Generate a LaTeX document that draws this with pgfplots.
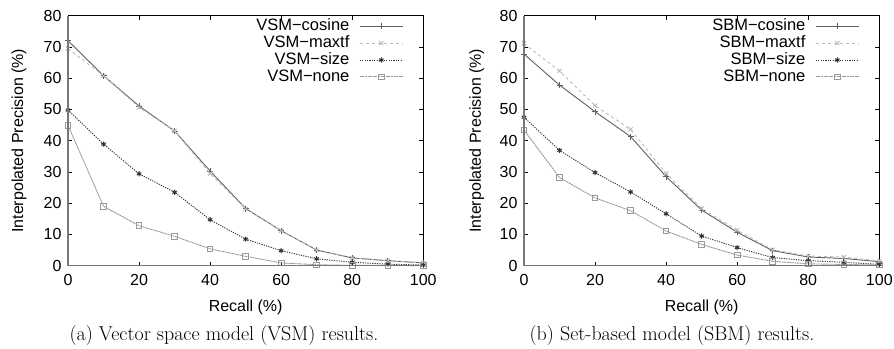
\documentclass[border=0pt]{standalone}
\usepackage{pgfplots}
\pgfplotsset{compat=1.18}
\usepackage{fontspec}
\setsansfont{Liberation Sans}
\definecolor{cCos}{HTML}{606060}
\definecolor{cMax}{HTML}{BBBBBB}
\definecolor{cSize}{HTML}{303030}
\definecolor{cNone}{HTML}{999999}
\definecolor{cAx}{HTML}{777777}

\pgfplotstableread{
x cos maxtf size none
0   72.0 69.5 49.8 44.9
10  60.8 60.8 38.9 19.0
20  51.1 50.7 29.4 12.8
30  43.1 43.1 23.5 9.4
40  30.3 29.5 14.7 5.4
50  18.3 18.2 8.5 3.0
60  11.2 11.2 4.8 0.9
70  5.0  5.0  2.2 0.3
80  2.5  2.5  1.1 0.1
90  1.6  1.6  0.5 0.1
100 0.9  0.9  0.2 0.0
}\vsm
\pgfplotstableread{
x cos maxtf size none
0   67.7 71.1 47.5 43.4
10  57.8 62.3 36.9 28.2
20  49.3 51.2 29.8 21.7
30  41.3 43.6 23.6 17.6
40  28.5 29.5 16.6 11.1
50  17.8 18.3 9.5 6.8
60  10.7 11.4 5.8 3.4
70  4.8  5.1  2.6 1.4
80  2.8  3.1  1.6 0.6
90  2.3  2.8  1.1 0.4
100 1.3  1.5  0.4 0.2
}\sbm

\pgfplotsset{
  myaxis/.style={
    anchor=south west, scale only axis, width=355.3pt, height=250pt,
    xmin=0, xmax=100, ymin=0, ymax=80,
    xtick={0,20,...,100}, ytick={0,10,...,80},
    tick align=inside, major tick length=4pt,
    tick style={black, line width=0.5pt},
    axis line style={black, line width=0.6pt},
    font=\sffamily\fontsize{16}{19}\selectfont,
    /pgf/number format/assume math mode=true,
    xticklabel style={yshift=-5.5pt},
    yticklabel style={xshift=-3pt},
    every axis x label/.style={at={(axis description cs:0.5,0)}, anchor=center, yshift=-41.3pt},
    xlabel={Recall (\%)},
    ylabel={Interpolated Precision (\%)},
    legend plot pos=right,
    legend cell align=right,
    legend style={draw=none, fill=none, at={(axis description cs:1,1)}, anchor=north east,
      xshift=-20pt, yshift=-3.75pt, inner sep=0pt, outer sep=0pt,
      nodes={inner sep=0pt, text height=11.5pt, text depth=2pt, font=\sffamily\fontsize{16.5}{19}\selectfont},
      row sep=3.4pt, column sep=10pt},
    legend image code/.code={\draw[mark repeat=2,mark phase=2,##1] plot coordinates {(0pt,0pt) (21.5pt,0pt) (43pt,0pt)};},
    after end axis/.code={\draw[cAx, line width=1.6pt] (rel axis cs:0,1) -- (rel axis cs:0,0) -- (rel axis cs:1,0);},
    clip=false,
  },
  sCos/.style={cCos, solid, line width=0.9pt, mark=+, mark size=3pt, mark options={solid}},
  sMax/.style={cMax, dashed, line width=0.9pt, mark=x, mark size=3pt, mark options={solid}},
  sSize/.style={cSize, dash pattern=on 1.2pt off 1.2pt, line width=0.9pt, mark=asterisk, mark size=2.6pt, mark options={solid, line width=1pt}},
  sNone/.style={cNone, dash pattern=on 2pt off 0.6pt, line width=0.9pt, mark=square, mark size=2.8pt, mark options={solid, line width=0.9pt}},
}

\begin{document}
\begin{tikzpicture}[x=1pt,y=1pt]
\useasboundingbox (0,0) rectangle (894,348);
\begin{axis}[myaxis, at={(68pt,82.3pt)},
  every axis y label/.style={at={(axis description cs:0,0.5)}, anchor=center, xshift=-49pt, rotate=90}]
\addplot[sCos] table[x=x,y=cos] {\vsm};
\addlegendentry{VSM−cosine}
\addplot[sMax] table[x=x,y=maxtf] {\vsm};
\addlegendentry{VSM−maxtf}
\addplot[sSize] table[x=x,y=size] {\vsm};
\addlegendentry{VSM−size}
\addplot[sNone] table[x=x,y=none] {\vsm};
\addlegendentry{VSM−none}
\end{axis}
\begin{axis}[myaxis, at={(524pt,82.3pt)},
  every axis y label/.style={at={(axis description cs:0,0.5)}, anchor=center, xshift=-47.3pt, rotate=90}]
\addplot[sCos] table[x=x,y=cos] {\sbm};
\addlegendentry{SBM−cosine}
\addplot[sMax] table[x=x,y=maxtf] {\sbm};
\addlegendentry{SBM−maxtf}
\addplot[sSize] table[x=x,y=size] {\sbm};
\addlegendentry{SBM−size}
\addplot[sNone] table[x=x,y=none] {\sbm};
\addlegendentry{SBM−none}
\end{axis}
\node[anchor=base, font=\fontsize{20}{24}\selectfont] at (224,7.3) {(a) Vector space model (VSM) results.};
\node[anchor=base, font=\fontsize{20}{24}\selectfont] at (672,7.3) {(b) Set-based model (SBM) results.};
\end{tikzpicture}
\end{document}
